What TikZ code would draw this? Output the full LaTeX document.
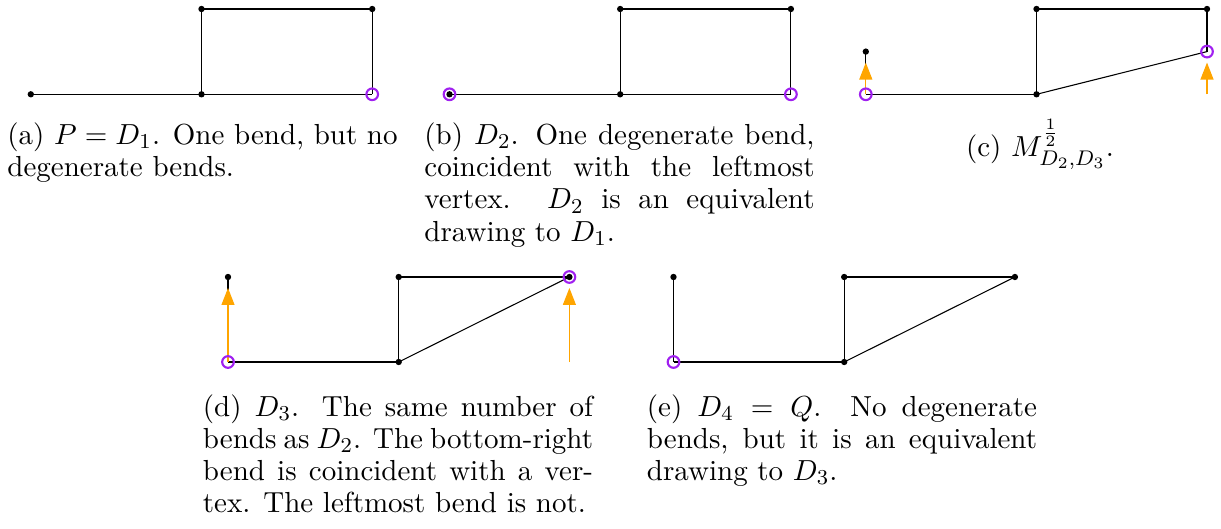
\documentclass[tikz,border=0pt]{standalone}
\usetikzlibrary{arrows.meta}
\definecolor{bendpurple}{RGB}{160,32,240}
\definecolor{moveorange}{RGB}{255,165,0}
\begin{document}
\begin{tikzpicture}[x=0.3776pt,y=-0.3776pt,
  vtx/.style={circle,fill=black,inner sep=0pt,minimum size=2.4pt},
  bendc/.style={circle,draw=bendpurple,line width=0.8pt,inner sep=0pt,minimum size=4.4pt},
  edg/.style={black,line width=0.4pt},
  mv/.style={moveorange,line width=0.45pt,shorten >=4.15pt,-{Triangle[width=4.9pt,length=6.4pt]}},
  capt/.style={anchor=base,inner sep=0pt,text width=147.3pt,align=justify,font=\fontsize{10.95pt}{12.18pt}\selectfont},
  captc/.style={anchor=base,inner sep=0pt,font=\fontsize{10.95pt}{12.18pt}\selectfont}]
\useasboundingbox (0,0) rectangle (1221,529);
% ---------- (a)
\coordinate (a1) at (30.8,94.3);
\coordinate (a2) at (201.5,94.3);
\coordinate (a3) at (201.5,9);
\coordinate (a4) at (372.2,9);
\coordinate (a5) at (372.2,94.3);
\draw[edg] (a1) -- (a2);
\draw[edg] (a2) -- (a3);
\draw[edg] (a3) -- (a4);
\draw[edg] (a4) -- (a5);
\draw[edg] (a5) -- (a2);
\node[vtx] (va1) at (a1) {};
\node[vtx] (va2) at (a2) {};
\node[vtx] (va3) at (a3) {};
\node[vtx] (va4) at (a4) {};
\node[bendc] (ca5) at (a5) {};
\node[capt] (capa) at (202.5,144.3) {(a) $P=D_1$. One bend, but no\linebreak degenerate bends.};
% ---------- (b)
\coordinate (b1) at (449.5,94.3);
\coordinate (b2) at (620.2,94.3);
\coordinate (b3) at (620.2,9);
\coordinate (b4) at (790.9,9);
\coordinate (b5) at (790.9,94.3);
\draw[edg] (b1) -- (b2);
\draw[edg] (b2) -- (b3);
\draw[edg] (b3) -- (b4);
\draw[edg] (b4) -- (b5);
\draw[edg] (b5) -- (b2);
\node[vtx] (vb1) at (b1) {};
\node[vtx] (vb2) at (b2) {};
\node[vtx] (vb3) at (b3) {};
\node[vtx] (vb4) at (b4) {};
\node[bendc] (cb1) at (b1) {};
\node[bendc] (cb5) at (b5) {};
\node[capt] (capb) at (619.5,144.3) {(b) $D_2$. One degenerate bend,\linebreak coincident with the leftmost\linebreak vertex. $D_2$ is an equivalent\linebreak drawing to $D_1$.};
% ---------- (c)
\coordinate (c0) at (865.8,51.6);
\coordinate (c1) at (865.8,94.3);
\coordinate (c2) at (1036.5,94.3);
\coordinate (c3) at (1036.5,9);
\coordinate (c4) at (1207,9);
\coordinate (c5) at (1207,51.6);
\coordinate (c6) at (1207,94.3);
\draw[edg] (c0) -- (c1);
\draw[edg] (c1) -- (c2);
\draw[edg] (c2) -- (c3);
\draw[edg] (c3) -- (c4);
\draw[edg] (c4) -- (c5);
\draw[edg] (c5) -- (c2);
\draw[mv] (c1) -- (c0);
\draw[mv] (c6) -- (c5);
\node[vtx] (vc0) at (c0) {};
\node[vtx] (vc2) at (c2) {};
\node[vtx] (vc3) at (c3) {};
\node[vtx] (vc4) at (c4) {};
\node[bendc] (cc1) at (c1) {};
\node[bendc] (cc5) at (c5) {};
\node[captc] (capc) at (1040,156.7) {(c) $M^{\frac{1}{2}}_{D_2,D_3}$.};
% ---------- (d)
\coordinate (d0) at (228,277);
\coordinate (d1) at (228,362);
\coordinate (d2) at (398.7,362);
\coordinate (d3) at (398.7,277);
\coordinate (d4) at (569.4,277);
\coordinate (d5) at (569.4,362);
\draw[edg] (d0) -- (d1);
\draw[edg] (d1) -- (d2);
\draw[edg] (d2) -- (d3);
\draw[edg] (d3) -- (d4);
\draw[edg] (d4) -- (d2);
\draw[mv] (d1) -- (d0);
\draw[mv] (d5) -- (d4);
\node[vtx] (vd0) at (d0) {};
\node[vtx] (vd2) at (d2) {};
\node[vtx] (vd3) at (d3) {};
\node[vtx] (vd4) at (d4) {};
\node[bendc] (cd1) at (d1) {};
\node[bendc] (cd4) at (d4) {};
\node[capt] (capd) at (398,416) {(d) $D_3$. The same number of\linebreak bends as $D_2$. The bottom-right\linebreak bend is coincident with a ver-\linebreak tex. The leftmost bend is not.};
% ---------- (e)
\coordinate (e0) at (673.5,277);
\coordinate (e1) at (673.5,362);
\coordinate (e2) at (844.2,362);
\coordinate (e3) at (844.2,277);
\coordinate (e4) at (1014.9,277);
\draw[edg] (e0) -- (e1);
\draw[edg] (e1) -- (e2);
\draw[edg] (e2) -- (e3);
\draw[edg] (e3) -- (e4);
\draw[edg] (e4) -- (e2);
\node[vtx] (ve0) at (e0) {};
\node[vtx] (ve2) at (e2) {};
\node[vtx] (ve3) at (e3) {};
\node[vtx] (ve4) at (e4) {};
\node[bendc] (ce1) at (e1) {};
\node[capt] (cape) at (842,416) {(e) $D_4 = Q$. No degenerate\linebreak bends, but it is an equivalent\linebreak drawing to $D_3$.};
\end{tikzpicture}
\end{document}
